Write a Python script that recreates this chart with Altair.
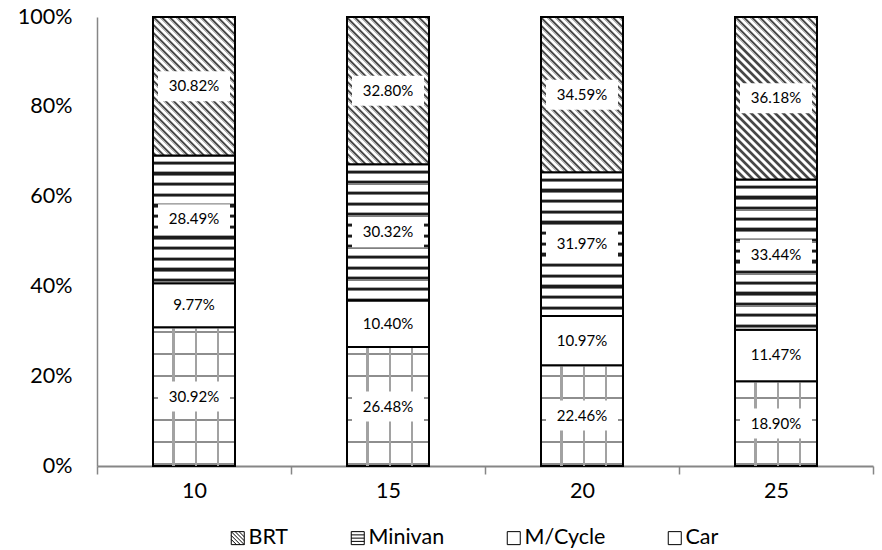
import math

import altair as alt
import pandas as pd

# Category axis: survey years
years = ["10", "15", "20", "25"]
# Travel modes, listed from the top of each stack downwards
modes = ["BRT", "Minivan", "M/Cycle", "Car"]
# Mode share (%) for each year
brt_share = [30.82, 32.80, 34.59, 36.18]
minivan_share = [28.49, 30.32, 31.97, 33.44]
mcycle_share = [9.77, 10.40, 10.97, 11.47]
car_share = [30.92, 26.48, 22.46, 18.90]
# Y axis tick values (%)
y_ticks = [0, 20, 40, 60, 80, 100]

shares = {"BRT": brt_share, "Minivan": minivan_share, "M/Cycle": mcycle_share, "Car": car_share}

rows = []
for m_i, m in enumerate(modes):
    for y_i, yr in enumerate(years):
        rows.append({"year": yr, "mode": m, "value": shares[m][y_i], "rank": len(modes) - m_i})
df = pd.DataFrame(rows)

# Plot-area geometry (pixels)
W, H = 776, 449
BAR_W = 82
PX = H / 100.0  # pixels per percentage point
FONT = "Lato"
AXIS_FS = 21.5


def stops_from_bands(bands, length, bg="#ffffff"):
    """Turn (start_px, end_px, colour) bands into hard-edged gradient stops."""
    stops = []
    cur = 0.0
    for a, b, col in sorted(bands):
        a = max(a, 0.0) / length
        b = min(b, length) / length
        if b <= a or a < cur - 1e-9:
            continue
        stops += [
            {"offset": round(cur, 5), "color": bg},
            {"offset": round(a, 5), "color": bg},
            {"offset": round(a, 5), "color": col},
            {"offset": round(b, 5), "color": col},
        ]
        cur = b
    stops += [{"offset": round(cur, 5), "color": bg}, {"offset": 1, "color": bg}]
    return stops


def minivan_fill(h):
    # horizontal stripes
    bands = []
    c = 7.3
    while c < h + 3:
        bands += [(c - 2.0, c - 1.0, "#a8a8a8"), (c - 1.0, c + 1.2, "#1c1c1c"), (c + 1.2, c + 2.4, "#808080")]
        c += 10.67
    return {"gradient": "linear", "x1": 0, "y1": 0, "x2": 0, "y2": 1,
            "stops": stops_from_bands(bands, h)}


def brt_fill(h, w=BAR_W):
    # 45-degree hatch: gradient axis runs from the bottom-left to the top-right corner
    a = w / h
    k = (a + 1) / (a * a + 1)
    length = (w + h) / math.sqrt(2)
    bands = []
    c = 1.0
    while c < length + 6:
        bands += [(c - 0.9, c, "#b4b4b4"), (c, c + 1.7, "#474747"), (c + 1.7, c + 2.6, "#b4b4b4")]
        c += 5.66
    return {"gradient": "linear", "x1": 0, "y1": 1, "x2": round(k * a, 5), "y2": round(1 - k, 5),
            "stops": stops_from_bands(bands, length)}


def car_rows_fill(h):
    # dotted rows counted up from the bottom of the bar
    bands = []
    c = h - 2.0
    while c > -1:
        bands.append((c - 1.0, c + 1.0, "#8e8e8e"))
        c -= 22.0
    return {"gradient": "linear", "x1": 0, "y1": 0, "x2": 0, "y2": 1,
            "stops": stops_from_bands(bands, h)}


def car_cols_fill(w=BAR_W):
    bands = [(x - 1.0, x + 1.0, "#a2a2a2") for x in (20.5, 43.0, 65.0)]
    return {"gradient": "linear", "x1": 0, "y1": 0, "x2": 1, "y2": 0,
            "stops": stops_from_bands(bands, w, bg="rgba(255,255,255,0)")}


x_enc = alt.X(
    "year:N", sort=years, title=None,
    scale=alt.Scale(paddingInner=0, paddingOuter=0),
    axis=alt.Axis(labelAngle=0, labelFontSize=AXIS_FS, labelFont=FONT, labelColor="#000000",
                  labelPadding=6, tickBand="extent", tickSize=8, tickWidth=1.5,
                  tickColor="#868686", domainColor="#868686", domainWidth=2),
)
y_scale = alt.Scale(domain=[0, 100], nice=False, zero=True)
y_axis = alt.Axis(values=y_ticks, labelExpr="datum.value + '%'", ticks=False, grid=False,
                  labelFontSize=AXIS_FS, labelFont=FONT, labelColor="#000000", labelPadding=25,
                  domainColor="#868686", domainWidth=1.5, title=None)

base = alt.Chart(df).transform_stack(
    stack="value", groupby=["year"], as_=["y0", "y1"],
    sort=[alt.SortField("rank", order="ascending")],
)

layers = []
for m in reversed(modes):
    for y_i, yr in enumerate(years):
        h = shares[m][y_i] * PX
        if m == "BRT":
            fill = brt_fill(h)
        elif m == "Minivan":
            fill = minivan_fill(h)
        elif m == "Car":
            fill = car_rows_fill(h)
        else:
            fill = "#ffffff"
        seg = base.transform_filter((alt.datum.mode == m) & (alt.datum.year == yr))
        enc = dict(x=x_enc, y=alt.Y("y0:Q", scale=y_scale, axis=y_axis), y2="y1:Q")
        layers.append(seg.mark_bar(width=BAR_W, fill=fill, stroke="black", strokeWidth=2).encode(**enc))
        if m == "Car":
            layers.append(seg.mark_bar(width=BAR_W, fill=car_cols_fill(), strokeWidth=0).encode(**enc))

# White boxes behind the value labels
BOX_W, BOX_H = 72, 30
box_path = "M-1,-{r}H1V{r}H-1Z".format(r=round(BOX_H / BOX_W, 4))
labels = base.transform_calculate(
    mid="(datum.y0 + datum.y1) / 2",
    label="format(datum.value, '.2f') + '%'",
)
layers.append(
    labels.mark_point(shape=box_path, size=BOX_W * BOX_W, filled=True, fill="white",
                      opacity=1, strokeWidth=0)
    .encode(x=x_enc, y=alt.Y("mid:Q", scale=y_scale, axis=y_axis))
)
layers.append(
    labels.mark_text(font=FONT, fontSize=15, color="black")
    .encode(x=x_enc, y=alt.Y("mid:Q", scale=y_scale, axis=y_axis), text="label:N")
)

# Legend symbols: outlined squares carrying each mode's pattern
legend_paths = [
    "M-1,-1H1V1H-1Z M0.2,-1L1,-0.2 M-0.4,-1L1,0.4 M-1,-1L1,1 M-1,-0.4L0.4,1 M-1,0.2L-0.2,1",
    "M-1,-1H1V1H-1Z M-1,-0.5H1 M-1,0H1 M-1,0.5H1",
    "M-1,-1H1V1H-1Z",
    "M-1,-1H1V1H-1Z",
]
layers.append(
    alt.Chart(df).transform_filter("false")
    .mark_point(filled=False, stroke="black", strokeWidth=1, opacity=1)
    .encode(shape=alt.Shape(
        "mode:N",
        scale=alt.Scale(domain=modes, range=legend_paths),
        legend=alt.Legend(title=None, orient="none", direction="horizontal",
                          legendX=130, legendY=510, labelFontSize=AXIS_FS, labelFont=FONT,
                          labelColor="#000000", symbolSize=169, symbolStrokeWidth=1,
                          symbolStrokeColor="black", symbolOpacity=1,
                          columnPadding=58, labelOffset=0),
    ))
)

chart = (
    alt.layer(*layers)
    .properties(
        width=W, height=H,
        autosize=alt.AutoSizeParams(type="none"),
        padding={"left": 97, "top": 17, "right": 9, "bottom": 84},
        background="white",
    )
    .configure_view(stroke=None)
)

chart.save("out.html", embed_options={"renderer": "svg", "actions": False})
